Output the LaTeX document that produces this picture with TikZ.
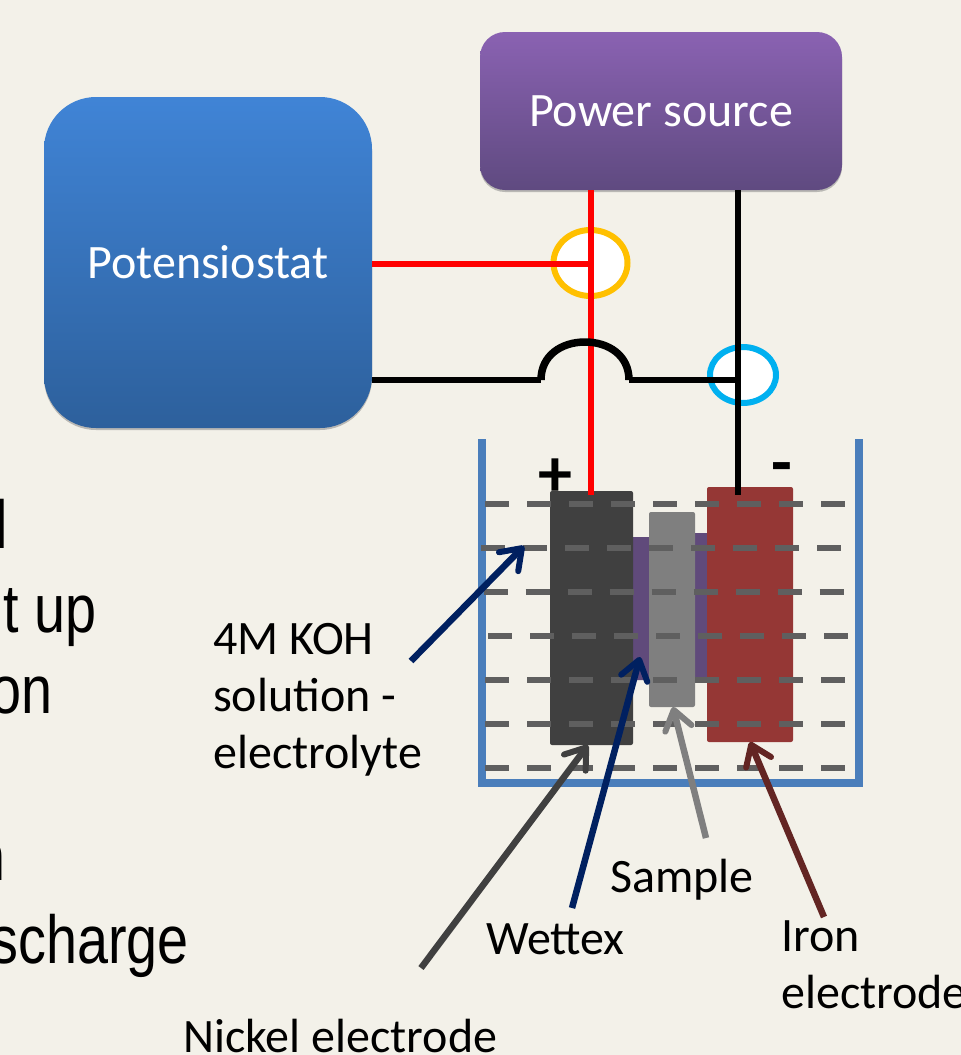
\documentclass[tikz,border=0pt]{standalone}
\usepackage{fontspec}
\setmainfont{Carlito}
\newfontfamily\slidefont{Liberation Sans}
\usetikzlibrary{arrows.meta,shadows,shapes.geometric}
\definecolor{slidebg}{HTML}{F3F1E9}
\definecolor{navyarrow}{HTML}{002060}
\definecolor{rustarrow}{HTML}{632523}
\definecolor{powertop}{HTML}{8A62B2}
\definecolor{powerbot}{HTML}{5F4A80}
\definecolor{potentop}{HTML}{4084D6}
\definecolor{potenbot}{HTML}{2D609C}
\definecolor{beakerblue}{HTML}{4A7EBB}
\definecolor{wettexpurple}{HTML}{604A7B}
\definecolor{nickelgrey}{HTML}{404040}
\definecolor{samplegrey}{HTML}{7F7F7F}
\definecolor{ironred}{HTML}{953735}
\definecolor{levelgrey}{HTML}{5F5F5F}
\definecolor{ringorange}{HTML}{FFC000}
\definecolor{ringblue}{HTML}{00B0F0}
\begin{document}
\begin{tikzpicture}[x=1pt, y=-1pt, line cap=butt,
                    box node/.style={rounded corners=#1,draw=none,text=white,font=\fontsize{48}{57}\selectfont,
                                     drop shadow={shadow xshift=0pt,shadow yshift=-2pt,opacity=.5}},
                    plate/.style={rounded corners=2pt,draw=none},
                    label node/.style={anchor=base west,inner sep=0pt,font=\fontsize{48}{57}\selectfont,align=left},
                    slide text/.style={anchor=base east,inner sep=0pt,xscale=.82,transform shape,font=\slidefont\fontsize{68}{80}\selectfont},
                    pole sign/.style={inner sep=0pt,font=\bfseries\fontsize{68}{72}\selectfont},
                    bath level/.style={line width=6pt,color=levelgrey,dash pattern=on 24pt off 18pt},
                    wire/.style={line width=6pt},
                    pointer/.style={line width=6.5pt,-{Straight Barb[length=19pt,width=27pt,line width=6pt,round]}},
                    meter ring/.style={ellipse,line width=6pt,fill=white,inner sep=0pt}]

  \useasboundingbox (0,0) rectangle (961,1055);
  \fill[slidebg] (0,0) rectangle (961,1055);
  \clip (0,0) rectangle (961,1055);

  % cut off slide text on the left
  \node[slide text] (txta) at (8,548) {l};
  \node[slide text] (txtb) at (97,632) {t up};
  \node[slide text] (txtc) at (53,713) {on};
  \node[slide text] (txtd) at (6,880) {n};
  \node[slide text] (txte) at (189,963) {scharge};

  \node[box node=25pt, top color=powertop, bottom color=powerbot,
        minimum width=362pt, minimum height=158pt] (power) at (661,111) {Power source};
  \node[box node=52pt, top color=potentop, bottom color=potenbot,
        minimum width=328pt, minimum height=331pt] (potentio) at (208,262.5) {Potensiostat};

  % beaker
  \coordinate (beakerTL) at (482,439);
  \coordinate (beakerBL) at (482,783);
  \coordinate (beakerBR) at (859,783);
  \coordinate (beakerTR) at (859,439);
  \draw[line width=7.5pt, color=beakerblue] (beakerTL) -- (beakerBL) -- (beakerBR) -- (beakerTR);

  \fill[plate, color=wettexpurple] (630,537) rectangle (652,680);
  \fill[plate, color=wettexpurple] (690,533) rectangle (710,678);

  \node[plate, fill=nickelgrey, minimum width=83pt, minimum height=254pt, inner sep=0pt] (nickel) at (591.5,618) {};
  \node[plate, fill=samplegrey, minimum width=46pt, minimum height=195pt, inner sep=0pt] (sample) at (672,609.5) {};
  \node[plate, fill=ironred, minimum width=86pt, minimum height=255pt, inner sep=0pt] (iron) at (750,614.5) {};

  \foreach \xrow/\yrow in {485/504, 481/548, 483.5/592, 488/636, 485/680, 485/724, 485/768}
    \draw[bath level] (\xrow,\yrow) -- ++(361,0);

  % meters
  \node[meter ring, draw=ringorange, minimum width=74pt, minimum height=66pt] (ammeter) at (590.5,263) {};
  \node[meter ring, draw=ringblue, minimum width=66pt, minimum height=56pt] (voltmeter) at (743,375) {};

  % wires
  \coordinate (redend) at (591,495);
  \coordinate (blackend) at (738,495);
  \coordinate (redjoin) at (591,264);
  \coordinate (blackjoin) at (738,380);
  \coordinate (hopL) at (541,380);
  \coordinate (hopR) at (629,380);
  \draw[wire, red] (power.south -| redend) -- (redend);
  \draw[wire, red] (potentio.east |- redjoin) -- (redjoin);
  \draw[wire, black] (power.south -| blackend) -- (blackend);
  \draw[wire, black] (potentio.east |- blackjoin) -- (hopL) (hopR) -- (blackjoin);
  \draw[line width=7.5pt, black] (hopL)
      .. controls (541,355) and (562,342) .. (585,342)
      .. controls (608,342) and (629,355) .. (hopR);

  \node[pole sign] (plus) at (555,478) {+};
  \node[pole sign] (minus) at (781.5,474) {-};

  % labels
  \node[label node] (lblkoh) at (213,768) {4M KOH\\solution -\\electrolyte};
  \node[label node] (lblsample) at (610,892) {Sample};
  \node[label node] (lblwettex) at (486,954) {Wettex};
  \node[label node] (lbliron) at (781,1008) {Iron\\electrode};
  \node[label node] (lblnickel) at (183,1052) {Nickel electrode};

  \coordinate (kohtail) at (411,661);
  \coordinate (kohtip) at (524,546);
  \coordinate (nickeltail) at (421,968);
  \coordinate (nickeltip) at (588,745);
  \coordinate (wettextail) at (572,908);
  \coordinate (wettextip) at (640,657);
  \coordinate (sampletail) at (706,838);
  \coordinate (sampletip) at (673,707);
  \coordinate (irontail) at (824,917);
  \coordinate (irontip) at (750,742);

  \draw[pointer, navyarrow] (kohtail) -- (kohtip);
  \draw[pointer, nickelgrey] (nickeltail) -- (nickeltip);
  \draw[pointer, navyarrow] (wettextail) -- (wettextip);
  \draw[pointer, samplegrey] (sampletail) -- (sampletip);
  \draw[pointer, rustarrow] (irontail) -- (irontip);

\end{tikzpicture}
\end{document}
